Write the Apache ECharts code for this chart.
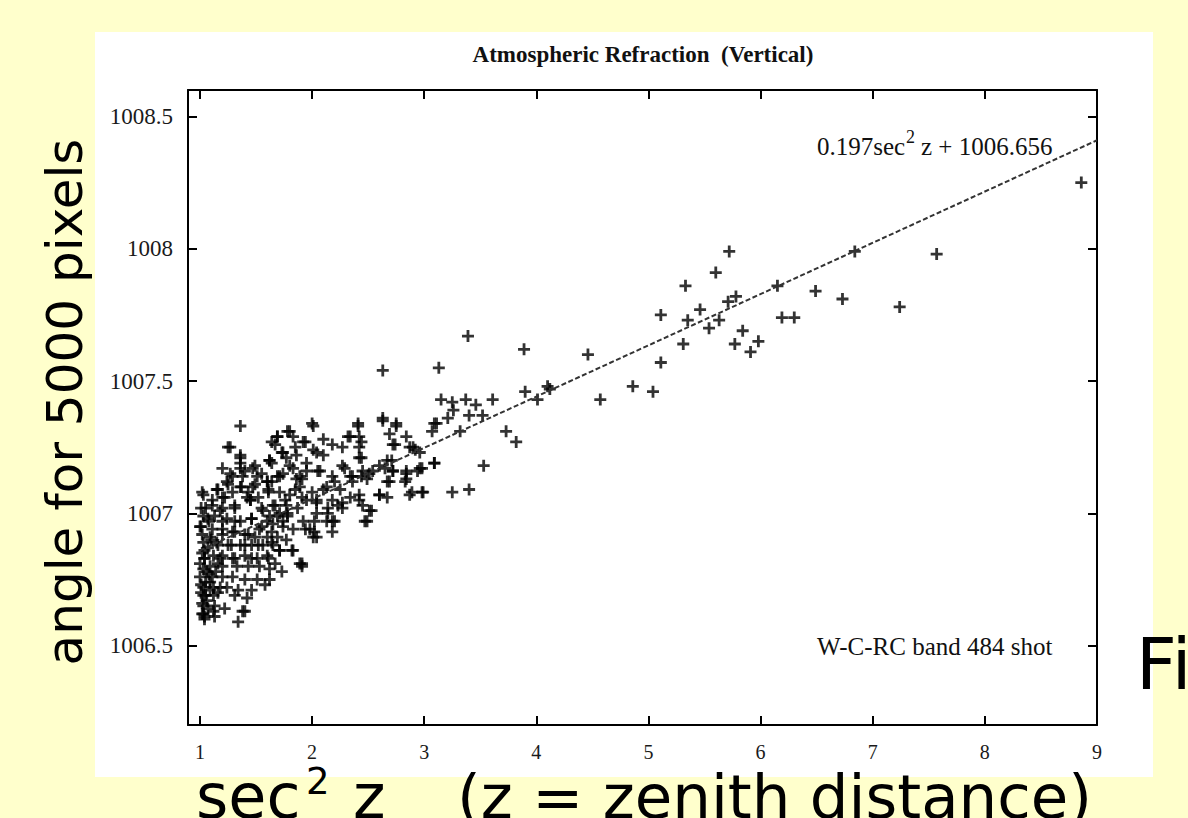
<!DOCTYPE html>
<html>
<head>
<meta charset="utf-8">
<script src="https://cdn.jsdelivr.net/npm/echarts@6/dist/echarts.min.js"></script>
<style>
  html, body { margin: 0; padding: 0; background: #ffffcc; }
  #paper { position: absolute; left: 95px; top: 32px; width: 1058px; height: 745px; background: #fff; }
  #chart { position: absolute; left: 0; top: 0; width: 1188px; height: 818px; }
</style>
</head>
<body>
<div id="paper"></div>
<div id="chart"></div>
<script>
  // sec^2 z ticks and angle ticks
  var xTicks = [1, 2, 3, 4, 5, 6, 7, 8, 9];
  var yTicks = [1006.5, 1007, 1007.5, 1008, 1008.5];

  // shots far from zenith (sec^2 z > 4)
  var sparseShots = [
    [8.86, 1008.25], [6.84, 1007.99], [7.57, 1007.98], [5.72, 1007.99], [5.60, 1007.91],
    [5.33, 1007.86], [5.78, 1007.82], [5.71, 1007.80], [5.11, 1007.75], [5.46, 1007.77],
    [5.35, 1007.73], [5.63, 1007.73], [5.54, 1007.70], [5.84, 1007.69], [6.15, 1007.86],
    [6.49, 1007.84], [6.73, 1007.81], [7.24, 1007.78], [6.19, 1007.74], [6.30, 1007.74],
    [5.77, 1007.64], [5.98, 1007.65], [5.91, 1007.61], [5.31, 1007.64], [4.46, 1007.60],
    [5.11, 1007.57], [4.12, 1007.47], [4.86, 1007.48], [5.04, 1007.46], [4.57, 1007.43]
  ];

  // shots in the middle range
  var middleShots = [
    [3.39, 1007.67], [3.89, 1007.62], [2.63, 1007.54], [3.13, 1007.55], [3.15, 1007.43],
    [3.25, 1007.42], [3.37, 1007.43], [3.61, 1007.43], [3.46, 1007.41], [3.26, 1007.39],
    [3.40, 1007.37], [3.52, 1007.37], [3.21, 1007.36], [3.11, 1007.34], [3.07, 1007.31],
    [3.32, 1007.31], [3.90, 1007.46], [4.10, 1007.48], [4.01, 1007.43], [3.73, 1007.31],
    [3.82, 1007.27], [3.53, 1007.18], [3.40, 1007.09], [3.25, 1007.08], [2.99, 1007.08],
    [2.89, 1007.08], [3.09, 1007.19], [2.98, 1007.17], [2.94, 1007.16], [2.84, 1007.15],
    [2.83, 1007.12], [2.67, 1007.20], [2.71, 1007.20], [2.65, 1007.17], [2.69, 1007.12],
    [2.67, 1007.06], [2.60, 1007.07], [2.72, 1007.16], [2.92, 1007.24], [2.87, 1007.25],
    [2.84, 1007.29], [2.74, 1007.26], [2.69, 1007.30], [2.75, 1007.33], [2.63, 1007.36],
    [2.41, 1007.33], [2.32, 1007.29], [2.42, 1007.29], [2.42, 1007.25], [2.42, 1007.21],
    [2.27, 1007.25], [2.18, 1007.26], [2.10, 1007.28], [2.01, 1007.33], [2.04, 1007.23],
    [2.10, 1007.22], [2.27, 1007.18], [2.07, 1007.16], [2.45, 1007.16], [2.51, 1007.15],
    [2.34, 1007.14], [2.20, 1007.12], [2.10, 1007.09], [2.25, 1007.09], [2.36, 1007.12],
    [2.44, 1007.14], [2.34, 1007.06], [2.42, 1007.07], [2.04, 1007.04], [2.18, 1007.05],
    [2.27, 1007.02], [2.14, 1007.00], [2.45, 1007.03], [2.53, 1007.01], [2.49, 1006.97],
    [2.20, 1006.97], [2.02, 1006.97], [2.02, 1006.93], [2.18, 1006.93], [2.27, 1007.04],
    [2.41, 1007.34], [2.63, 1007.35], [2.75, 1007.34], [3.09, 1007.34], [2.90, 1007.25],
    [2.72, 1007.26], [2.44, 1007.27], [2.34, 1007.29], [2.44, 1007.21], [2.60, 1007.18],
    [2.96, 1007.23], [3.09, 1007.19], [2.96, 1007.17], [2.84, 1007.16], [2.72, 1007.16],
    [2.54, 1007.16], [2.29, 1007.17], [2.18, 1007.14], [2.36, 1007.14], [2.13, 1007.10],
    [2.49, 1007.13], [2.67, 1007.12], [2.84, 1007.13], [2.60, 1007.07], [2.87, 1007.07],
    [2.98, 1007.08], [2.51, 1007.01], [2.47, 1006.97], [2.42, 1007.05], [2.23, 1007.03],
    [2.14, 1007.02], [2.18, 1006.97], [2.01, 1006.91], [1.94, 1006.94], [1.83, 1006.86],
    [1.91, 1006.80], [1.71, 1006.86], [2.13, 1006.97], [2.04, 1007.00], [1.95, 1007.05],
    [1.86, 1007.13], [1.71, 1007.14], [1.60, 1007.12], [1.69, 1007.29], [1.80, 1007.31],
    [1.25, 1007.25], [1.62, 1007.20], [1.77, 1007.21], [2.00, 1007.34]
  ];

  // shots near zenith (sec^2 z < 2)
  var denseShots = [
    [1.36, 1007.33], [1.27, 1007.25], [1.36, 1007.21], [1.20, 1007.17], [1.78, 1007.31],
    [1.69, 1007.29], [1.92, 1007.27], [1.64, 1007.27], [1.83, 1007.29], [1.73, 1007.23],
    [1.62, 1007.20], [2.01, 1007.24], [1.86, 1007.22], [1.95, 1007.19], [1.80, 1007.18],
    [2.05, 1007.16], [1.89, 1007.14], [1.36, 1007.17], [1.47, 1007.17], [1.27, 1007.15],
    [1.38, 1007.14], [1.51, 1007.14], [1.60, 1007.12], [1.69, 1007.14], [1.24, 1007.12],
    [1.36, 1007.10], [1.47, 1007.10], [1.61, 1007.09], [1.71, 1007.08], [1.29, 1007.08],
    [1.15, 1007.09], [1.03, 1007.07], [1.42, 1007.06], [1.52, 1007.06], [1.80, 1007.07],
    [1.89, 1007.10], [2.00, 1007.08], [2.04, 1007.05], [1.91, 1007.06], [1.77, 1007.03],
    [1.65, 1007.03], [1.55, 1007.02], [1.45, 1007.05], [1.20, 1007.06], [1.11, 1007.03],
    [1.20, 1007.02], [1.31, 1007.02], [1.01, 1006.95], [1.03, 1006.99], [1.13, 1006.99],
    [1.24, 1006.98], [1.36, 1006.97], [1.46, 1006.98], [1.62, 1006.99], [1.71, 1007.00],
    [1.78, 1006.99], [1.74, 1006.97], [1.65, 1006.96], [1.55, 1006.95], [1.92, 1006.97],
    [1.98, 1006.94], [2.04, 1006.91], [1.83, 1006.94], [1.11, 1006.94], [1.20, 1006.94],
    [1.29, 1006.93], [1.40, 1006.92], [1.49, 1006.91], [1.60, 1006.91], [1.69, 1006.91],
    [1.77, 1006.90], [1.03, 1006.89], [1.15, 1006.89], [1.25, 1006.88], [1.36, 1006.88],
    [1.46, 1006.88], [1.56, 1006.88], [1.65, 1006.88], [1.71, 1006.86], [1.89, 1006.81],
    [1.02, 1006.85], [1.12, 1006.84], [1.20, 1006.84], [1.29, 1006.83], [1.40, 1006.84],
    [1.51, 1006.83], [1.61, 1006.83], [1.67, 1006.81], [1.00, 1006.81], [1.09, 1006.80],
    [1.20, 1006.80], [1.33, 1006.80], [1.43, 1006.80], [1.53, 1006.80], [1.62, 1006.79],
    [1.73, 1006.78], [1.00, 1006.76], [1.11, 1006.76], [1.20, 1006.76], [1.29, 1006.76],
    [1.40, 1006.75], [1.51, 1006.75], [1.62, 1006.75], [1.03, 1006.72], [1.12, 1006.72],
    [1.24, 1006.72], [1.34, 1006.71], [1.46, 1006.71], [1.58, 1006.73], [1.03, 1006.69],
    [1.12, 1006.69], [1.31, 1006.69], [1.42, 1006.68], [1.03, 1006.65], [1.13, 1006.65],
    [1.38, 1006.63], [1.03, 1006.62], [1.12, 1006.63], [1.04, 1006.60], [1.34, 1006.59],
    [1.40, 1006.63], [1.22, 1006.64], [1.04, 1006.61], [1.01, 1006.70], [1.02, 1006.66],
    [1.05, 1006.74], [1.06, 1006.78], [1.04, 1006.83], [1.07, 1006.87], [1.02, 1006.92],
    [1.08, 1006.97], [1.05, 1007.02], [1.09, 1006.71], [1.07, 1006.64], [1.10, 1006.90],
    [1.36, 1007.22], [1.36, 1007.19], [1.49, 1007.18], [1.40, 1007.16], [1.29, 1007.14],
    [1.55, 1007.15], [1.64, 1007.19], [1.74, 1007.23], [1.67, 1007.26], [1.85, 1007.25],
    [1.94, 1007.27], [1.83, 1007.17], [1.74, 1007.15], [1.64, 1007.12], [1.49, 1007.11],
    [1.37, 1007.10], [1.25, 1007.11], [1.16, 1007.09], [1.02, 1007.08], [1.11, 1007.05],
    [1.22, 1007.06], [1.45, 1007.05], [1.31, 1007.03], [1.18, 1007.01], [1.01, 1007.02],
    [1.00, 1006.95], [1.07, 1006.98], [1.20, 1006.97], [1.31, 1006.97], [1.46, 1006.98],
    [1.56, 1007.01], [1.67, 1007.03], [1.76, 1007.05], [1.85, 1007.09], [1.91, 1007.13],
    [1.95, 1007.16], [1.60, 1006.97], [1.69, 1006.99], [1.78, 1007.00], [1.87, 1007.02],
    [1.74, 1006.95], [1.64, 1006.93], [1.53, 1006.94], [1.43, 1006.92], [1.31, 1006.93],
    [1.20, 1006.92], [1.09, 1006.91], [1.04, 1006.86], [1.16, 1006.88], [1.28, 1006.88],
    [1.40, 1006.88], [1.52, 1006.88], [1.64, 1006.89], [1.82, 1006.86], [1.91, 1006.81],
    [1.04, 1006.83], [1.18, 1006.83], [1.31, 1006.83], [1.46, 1006.83], [1.60, 1006.84],
    [1.43, 1007.08], [1.61, 1007.08], [1.02, 1006.62], [1.06, 1006.67], [1.09, 1006.74],
    [1.01, 1006.73], [1.05, 1006.69], [1.08, 1006.77], [1.03, 1006.79], [1.14, 1006.78],
    [1.16, 1006.70], [1.13, 1006.61], [1.18, 1006.72], [1.16, 1006.81]
  ];

  // fitted line 0.197 sec^2 z + 1006.656, ends
  var fitLine = [[1, 1006.86], [9, 1008.41]];

  var serif = '"Liberation Serif", "Times New Roman", serif';
  var sans = '"DejaVu Sans", "Noto Sans", sans-serif';
  var plus = 'path://M4.6,0H7.4V4.6H12V7.4H7.4V12H4.6V7.4H0V4.6H4.6Z';

  var chart = echarts.init(document.getElementById('chart'), null, {renderer: 'svg'});

  function frameAxis(pos, ticks, showLabel, size) {
    var horiz = pos === 'bottom' || pos === 'top';
    return {
      type: 'value',
      position: pos,
      min: horiz ? 0.893 : 1006.2,
      max: horiz ? 9 : 1008.6,
      axisLine: {show: true, onZero: false, lineStyle: {color: '#000', width: 2}},
      axisTick: {show: true, inside: true, length: 9, customValues: ticks, lineStyle: {color: '#000', width: 2}},
      axisLabel: {
        show: showLabel,
        customValues: ticks,
        fontFamily: serif,
        fontSize: size,
        color: '#1a1a1a',
        margin: horiz ? 17 : 15,
        formatter: function (v) { return String(v); }
      },
      splitLine: {show: false}
    };
  }

  var option = {
    backgroundColor: 'transparent',
    animation: false,
    grid: {left: 188, top: 90, right: 91, bottom: 93},
    xAxis: [frameAxis('bottom', xTicks, true, 20), frameAxis('top', xTicks, false, 20)],
    yAxis: [frameAxis('left', yTicks, true, 23), frameAxis('right', yTicks, false, 23)],
    graphic: [
      {type: 'text', x: 643, y: 54, style: {text: 'Atmospheric Refraction  (Vertical)', font: 'bold 23px ' + serif, fill: '#111', textAlign: 'center', textVerticalAlign: 'middle'}},
      {type: 'text', x: 817, y: 146, style: {text: '0.197sec', font: '25px ' + serif, fill: '#111', textAlign: 'left', textVerticalAlign: 'middle'}},
      {type: 'text', x: 906, y: 137, style: {text: '2', font: '18px ' + serif, fill: '#111', textAlign: 'left', textVerticalAlign: 'middle'}},
      {type: 'text', x: 921, y: 146, style: {text: 'z + 1006.656', font: '25px ' + serif, fill: '#111', textAlign: 'left', textVerticalAlign: 'middle'}},
      {type: 'text', x: 817, y: 646, style: {text: 'W-C-RC band 484 shot', font: '25px ' + serif, fill: '#111', textAlign: 'left', textVerticalAlign: 'middle'}},
      {type: 'text', x: 65, y: 402, rotation: Math.PI / 2, style: {text: 'angle for 5000 pixels', font: '50px ' + sans, fill: '#000', textAlign: 'center', textVerticalAlign: 'middle'}},
      {type: 'text', x: 196, y: 796, style: {text: 'sec', font: '62px ' + sans, fill: '#000', textAlign: 'left', textVerticalAlign: 'middle'}},
      {type: 'text', x: 306, y: 781, style: {text: '2', font: '37px ' + sans, fill: '#000', textAlign: 'left', textVerticalAlign: 'middle'}},
      {type: 'text', x: 353, y: 796, style: {text: 'z', font: '62px ' + sans, fill: '#000', textAlign: 'left', textVerticalAlign: 'middle'}},
      {type: 'text', x: 457, y: 796, style: {text: '(z = zenith distance)', font: '61px ' + sans, fill: '#000', textAlign: 'left', textVerticalAlign: 'middle'}},
      {type: 'text', x: 1136, y: 664, style: {text: 'Fig.', font: '71px ' + sans, fill: '#000', textAlign: 'left', textVerticalAlign: 'middle'}}
    ],
    series: [
      {
        name: 'shots',
        type: 'scatter',
        data: denseShots.concat(middleShots, sparseShots),
        symbol: plus,
        symbolSize: 12,
        itemStyle: {color: '#000'},
        silent: true
      },
      {
        name: 'fit',
        type: 'line',
        data: fitLine,
        symbol: 'none',
        lineStyle: {color: '#333', width: 2, type: [5, 2.5]},
        silent: true
      }
    ]
  };

  chart.setOption(option);
</script>
</body>
</html>
